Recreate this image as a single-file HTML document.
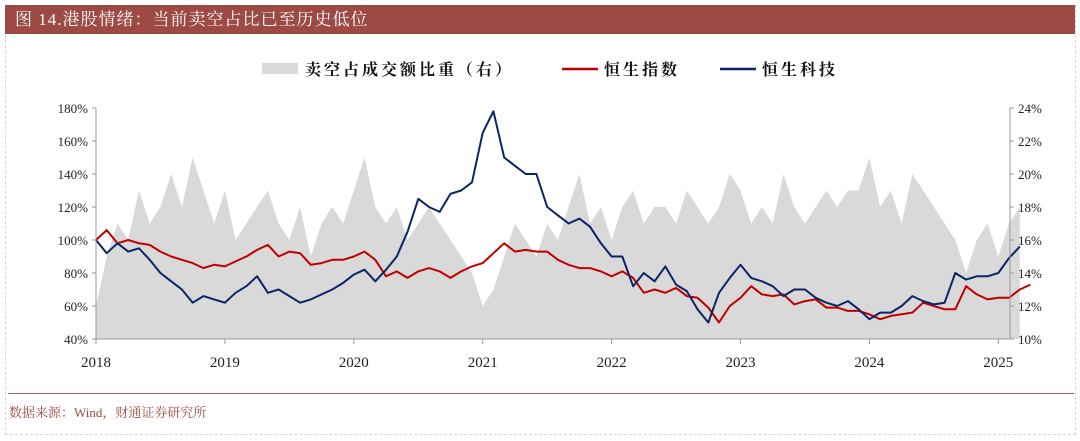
<!DOCTYPE html>
<html><head><meta charset="utf-8">
<style>
body{margin:0;background:#fff;width:1080px;height:441px;overflow:hidden;font-family:"Liberation Serif","Noto Serif CJK SC",serif;}
#frame{position:absolute;left:5px;top:5px;width:1069px;height:428px;border:1px dashed #d8d8d8;}
#title{position:absolute;left:5px;top:5px;width:1070px;height:29px;background:#9c4a43;color:#fff;font-size:17px;line-height:29px;padding-left:10px;box-sizing:border-box;letter-spacing:1px;}
#rule{position:absolute;left:8px;top:393px;width:1066px;height:1px;background:#a55a55;}
#src{position:absolute;left:9px;top:402px;font-size:13px;color:#9c4a43;}
svg{position:absolute;left:0;top:0;}
</style></head><body>
<div id="frame"></div>
<div id="title">图 14.港股情绪：当前卖空占比已至历史低位</div>
<svg id="chart" width="1080" height="441"></svg>
<div id="rule"></div>
<div id="src">数据来源：Wind，财通证券研究所</div>
<script>
const years=["2018","2019","2020","2021","2022","2023","2024","2025"];
const leftTicks=["40%","60%","80%","100%","120%","140%","160%","180%"];
const rightTicks=["10%","12%","14%","16%","18%","20%","22%","24%"];
const hsi=[100,106,98,100,98,97,93,90,88,86,83,85,84,
87,90,94,97,90,93,92,85,86,88,88,90,
93,88,78,81,77,81,83,81,77,81,84,86,
92,98,93,94,93,93,88,85,83,83,81,78,
81,77,68,70,68,71,66,65,59,50,60,65,
72,67,66,67,61,63,64,59,59,57,57,55,
52,54,55,56,62,60,58,58,72,67,64,65,
65,70,73];
const hstech=[100,92,98,93,95,88,80,75,70,62,66,64,
62,68,72,78,68,70,66,62,64,67,70,74,
79,82,75,82,90,105,125,120,117,128,130,135,
165,178,150,145,140,140,120,115,110,113,108,98,
90,90,72,80,75,84,73,69,58,50,68,77,
85,77,75,72,66,70,70,65,62,60,63,58,
52,56,56,60,66,63,61,62,80,76,78,78,
80,89,96];
const shortRatio=[12,15,17,16,19,17,18,20,18,21,19,17,
19,16,17,18,19,17,16,18,15,17,18,17,
19,21,18,17,18,16,17,18,17,16,15,14,
12,13,15,17,16,15,17,16,18,20,17,18,
16,18,19,17,18,18,17,19,18,17,18,20,
19,17,18,17,20,18,17,18,19,18,19,19,
21,18,19,17,20,19,18,17,16,14,16,17,
15,17,18];
const svg=document.getElementById('chart');
const NS='http://www.w3.org/2000/svg';
const X0=96,XS=128.9/12,Y0=339,Y1=108,X1=1010;
const x=i=>X0+i*XS;
const yL=v=>Y0-(v-40)/140*(Y0-Y1);
const yR=v=>Y0-(v-10)/14*(Y0-Y1);
function mk(t,a){const e=document.createElementNS(NS,t);for(const k in a)e.setAttribute(k,a[k]);svg.appendChild(e);return e;}
let d='M'+x(0)+','+Y0;
shortRatio.forEach((v,i)=>{d+=' L'+x(i).toFixed(1)+','+yR(v).toFixed(1);});
d+=' L'+x(shortRatio.length-1)+','+Y0+'Z';
let e=mk('path',{d:d,fill:'#d9d9d9'});


function line(arr,col,name){let p=arr.map((v,i)=>(i?'L':'M')+x(i).toFixed(1)+','+yL(v).toFixed(1)).join(' ');
const l=mk('path',{d:p,fill:'none',stroke:col,'stroke-width':2,'stroke-linejoin':'round'});

}
line(hsi,'#c00000','hsi-line');
line(hstech,'#0b2468','hstech-line');
mk('line',{x1:X0,y1:Y1,x2:X0,y2:Y0,stroke:'#999'});
mk('line',{x1:X1,y1:Y1,x2:X1,y2:Y0,stroke:'#999'});
mk('line',{x1:X0,y1:Y0,x2:X1,y2:Y0,stroke:'#999'});
leftTicks.forEach((t,i)=>{const yy=Y0-i*(Y0-Y1)/7;
mk('line',{x1:X0-4,y1:yy,x2:X0,y2:yy,stroke:'#999'});
const tx=mk('text',{x:X0-8,y:yy+5,'text-anchor':'end','font-size':13,fill:'#222'});tx.textContent=t;

});
rightTicks.forEach((t,i)=>{const yy=Y0-i*(Y0-Y1)/7;
mk('line',{x1:X1,y1:yy,x2:X1+4,y2:yy,stroke:'#999'});
const tx=mk('text',{x:X1+8,y:yy+5,'font-size':13,fill:'#222'});tx.textContent=t;

});
years.forEach((t,i)=>{const xx=x(i*12);
mk('line',{x1:xx,y1:Y0,x2:xx,y2:Y0+5,stroke:'#999'});
const tx=mk('text',{x:xx,y:Y0+28,'text-anchor':'middle','font-size':15,fill:'#222'});tx.textContent=t;

});
mk('rect',{x:262,y:63,width:36,height:11,fill:'#d9d9d9'});
[['卖空占成交额比重（右）',305],['恒生指数',604],['恒生科技',762]].forEach(([t,xx])=>{
const tx=mk('text',{x:xx,y:75,'font-size':16,'font-weight':'bold',fill:'#111','letter-spacing':3});tx.textContent=t;

});
mk('line',{x1:562,y1:69,x2:598,y2:69,stroke:'#c00000','stroke-width':2.5});
mk('line',{x1:720,y1:69,x2:756,y2:69,stroke:'#0b2468','stroke-width':2.5});
</script>
</body></html>
